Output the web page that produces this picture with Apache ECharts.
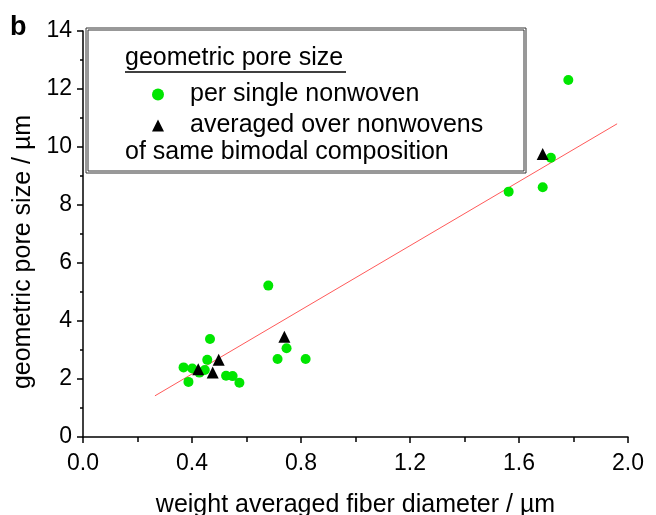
<!DOCTYPE html>
<html>
<head>
<meta charset="utf-8">
<script src="https://cdn.jsdelivr.net/npm/echarts@6/dist/echarts.min.js"></script>
<style>
  html, body { margin: 0; padding: 0; background: #fff; }
  #chart { width: 656px; height: 515px; }
</style>
</head>
<body>
<div id="chart"></div>
<script>
// per single nonwoven (fiber diameter, pore size)
var singleData = [
    [0.369, 2.40], [0.401, 2.36], [0.387, 1.90], [0.427, 2.22], [0.447, 2.31],
    [0.456, 2.66], [0.466, 3.38], [0.525, 2.11], [0.549, 2.10], [0.574, 1.87],
    [0.680, 5.22], [0.714, 2.69], [0.747, 3.06], [0.817, 2.69],
    [1.562, 8.46], [1.687, 8.61], [1.717, 9.63], [1.781, 12.31]
];
// averaged over nonwovens of same composition
var averagedData = [
    [0.423, 2.34], [0.476, 2.22], [0.498, 2.66], [0.739, 3.46], [1.687, 9.76]
];
// linear fit endpoints
var fitLine = [[0.264, 1.42], [1.96, 10.80]];

var font = 'Liberation Sans, Arial, sans-serif';

var chart = echarts.init(document.getElementById('chart'));
chart.setOption({
    animation: false,
    backgroundColor: '#fff',
    textStyle: { fontFamily: font },
    grid: { left: 83, right: 28, top: 31, bottom: 78, outerBoundsMode: 'none', containLabel: false },
    xAxis: {
        type: 'value', min: 0, max: 2, interval: 0.4,
        name: 'weight averaged fiber diameter / µm',
        nameLocation: 'middle', nameGap: 56,
        nameTextStyle: { fontSize: 25, color: '#000', fontFamily: font },
        axisLine: { lineStyle: { color: '#000', width: 1.5 } },
        axisTick: { length: 6, lineStyle: { color: '#000', width: 1.5 } },
        minorTick: { show: true, splitNumber: 2, length: 5, lineStyle: { color: '#000', width: 1.5 } },
        splitLine: { show: false },
        axisLabel: {
            fontSize: 23, color: '#000', margin: 15,
            formatter: function (v) { return v.toFixed(1); }
        }
    },
    yAxis: {
        type: 'value', min: 0, max: 14, interval: 2,
        name: 'geometric pore size / µm',
        nameLocation: 'middle', nameGap: 47,
        nameTextStyle: { fontSize: 25, color: '#000', fontFamily: font, padding: [0, 36, 0, 0] },
        axisLine: { show: true, lineStyle: { color: '#000', width: 1.5 } },
        axisTick: { show: true, length: 6, lineStyle: { color: '#000', width: 1.5 } },
        minorTick: { show: true, splitNumber: 2, length: 3, lineStyle: { color: '#000', width: 1.5 } },
        splitLine: { show: false },
        axisLabel: { fontSize: 23, color: '#000', margin: 11 }
    },
    legend: {
        orient: 'vertical', left: 147, top: 77,
        itemWidth: 12, itemHeight: 12, itemGap: 6,
        textStyle: { fontSize: 25, lineHeight: 25, color: '#000', padding: [0, 0, 0, 21], fontFamily: font },
        data: [
            { name: 'per single nonwoven', icon: 'circle' },
            { name: 'averaged over nonwovens', icon: 'triangle' }
        ]
    },
    graphic: [
        { type: 'rect', shape: { x: 86, y: 28, width: 440, height: 145 },
          style: { fill: 'none', stroke: '#333', lineWidth: 1 }, z: 10 },
        { type: 'rect', shape: { x: 88, y: 30, width: 436, height: 141 },
          style: { fill: 'none', stroke: '#333', lineWidth: 1 }, z: 10 },
        { type: 'text', left: 125, top: 46, z: 10,
          style: { text: 'geometric pore size', font: '25px ' + font, fill: '#000' } },
        { type: 'line', shape: { x1: 125, y1: 72, x2: 346, y2: 72 },
          style: { stroke: '#000', lineWidth: 1.5 }, z: 10 },
        { type: 'text', left: 125, top: 140, z: 10,
          style: { text: 'of same bimodal composition', font: '25px ' + font, fill: '#000' } },
        { type: 'text', left: 10, top: 14, z: 10,
          style: { text: 'b', font: 'bold 27px ' + font, fill: '#000' } }
    ],
    series: [
        {
            name: 'fit', type: 'line', data: fitLine, showSymbol: false, symbol: 'none',
            lineStyle: { color: '#ff5a5a', width: 1 }, z: 1, silent: true
        },
        {
            name: 'per single nonwoven', type: 'scatter', data: singleData,
            symbol: 'circle', symbolSize: 10,
            itemStyle: { color: '#00e600', opacity: 1 }, z: 2
        },
        {
            name: 'averaged over nonwovens', type: 'scatter', data: averagedData,
            symbol: 'triangle', symbolSize: 12,
            itemStyle: { color: '#000', opacity: 1 }, z: 3
        }
    ]
});
</script>
</body>
</html>
